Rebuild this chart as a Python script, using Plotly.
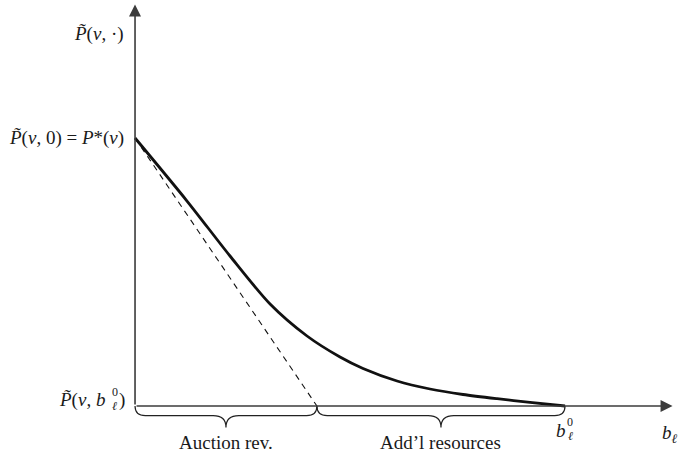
import plotly.graph_objects as go

# Resource price as a function of bid b_l (P* normalised to 1, b_l^0 normalised to 1)
curve_b = [0.0, 0.1209, 0.2209, 0.3140, 0.400, 0.4767, 0.5302, 0.6093, 0.6860, 0.7628, 0.8419, 0.9186, 1.0]
curve_p = [1.0, 0.7649, 0.5597, 0.3806, 0.2612, 0.1828, 0.1399, 0.0933, 0.0634, 0.0429, 0.0272, 0.0138, 0.0]

# Tangent at b = 0 (dashed), hitting zero at the end of the auction revenue segment
tangent_b = [0.0, 0.423]
tangent_p = [1.0, 0.0]

b_zero = curve_b[-1]
p_star = curve_p[0]

brace_labels = ["Auction rev.", "Add’l resources"]

FONT = "Liberation Serif"
AXIS_COLOR = "#3c3c3c"
INK = "#1a1a1a"

fig = go.Figure()

fig.add_trace(go.Scatter(
    x=tangent_b, y=tangent_p, mode="lines",
    line=dict(color="#111", width=1.1, dash="6px,5px"),
    hoverinfo="skip", showlegend=False))

fig.add_trace(go.Scatter(
    x=curve_b, y=curve_p, mode="lines",
    line=dict(color="#111", width=2.8, shape="spline", smoothing=0.8),
    hoverinfo="skip", showlegend=False))


def brace_path(x0, x1, body=-0.036, tip=-0.08, r_end=0.024, r_mid=0.03):
    xm = (x0 + x1) / 2
    return (f"M {x0},0 Q {x0},{body} {x0 + r_end},{body} "
            f"L {xm - r_mid},{body} Q {xm},{body} {xm},{tip} "
            f"Q {xm},{body} {xm + r_mid},{body} "
            f"L {x1 - r_end},{body} Q {x1},{body} {x1},0")


segments = [(0.0, tangent_b[1]), (tangent_b[1], b_zero)]
shapes = []
for (a, b) in segments:
    shapes.append(dict(type="path", xref="x", yref="y", path=brace_path(a, b),
                       line=dict(color="#222", width=1.2)))

annotations = []
# axes with arrowheads
annotations.append(dict(x=1.25, y=0, ax=0, ay=0, xref="x", yref="y", axref="x", ayref="y",
                        showarrow=True, arrowhead=2, arrowsize=1.5, arrowwidth=1.6,
                        arrowcolor=AXIS_COLOR, text=""))
annotations.append(dict(x=0, y=1.498, ax=0, ay=0, xref="x", yref="y", axref="x", ayref="y",
                        showarrow=True, arrowhead=2, arrowsize=1.5, arrowwidth=1.6,
                        arrowcolor=AXIS_COLOR, text=""))

txt = dict(family=FONT, size=19, color=INK)
small = dict(family=FONT, size=12, color=INK)

for (a, b), lab in zip(segments, brace_labels):
    annotations.append(dict(x=(a + b) / 2, y=-0.138, xref="x", yref="y", text=lab,
                            showarrow=False, font=txt, xanchor="center", yanchor="middle"))

# y-axis labels
annotations.append(dict(x=0, y=1.39, xref="x", yref="y", xshift=-9,
                        text="<i>P̃</i>(<i>ν</i>, ·)", showarrow=False, font=txt,
                        xanchor="right", yanchor="middle"))
annotations.append(dict(x=0, y=p_star, xref="x", yref="y", xshift=-9,
                        text="<i>P̃</i>(<i>ν</i>, 0) = <i>P</i>*(<i>ν</i>)", showarrow=False, font=txt,
                        xanchor="right", yanchor="middle"))
annotations.append(dict(x=0, y=0.022, xref="x", yref="y", xshift=-28,
                        text="<i>P̃</i>(<i>ν</i>, <i>b</i>", showarrow=False, font=txt,
                        xanchor="right", yanchor="middle"))
annotations.append(dict(x=0, y=0.052, xref="x", yref="y", xshift=-20,
                        text="0", showarrow=False, font=small,
                        xanchor="center", yanchor="middle"))
annotations.append(dict(x=0, y=0.0, xref="x", yref="y", xshift=-21,
                        text="<i>ℓ</i>", showarrow=False, font=small,
                        xanchor="center", yanchor="middle"))
annotations.append(dict(x=0, y=0.022, xref="x", yref="y", xshift=-8,
                        text=")", showarrow=False, font=txt,
                        xanchor="right", yanchor="middle"))

# x-axis labels
annotations.append(dict(x=b_zero, y=-0.09, xref="x", yref="y", xshift=-4,
                        text="<i>b</i>", showarrow=False, font=txt,
                        xanchor="center", yanchor="middle"))
annotations.append(dict(x=b_zero, y=-0.058, xref="x", yref="y", xshift=5,
                        text="0", showarrow=False, font=small,
                        xanchor="center", yanchor="middle"))
annotations.append(dict(x=b_zero, y=-0.112, xref="x", yref="y", xshift=5,
                        text="<i>ℓ</i>", showarrow=False, font=small,
                        xanchor="center", yanchor="middle"))
annotations.append(dict(x=1.245, y=-0.105, xref="x", yref="y",
                        text="<i>b</i><sub><i>ℓ</i></sub>", showarrow=False, font=txt,
                        xanchor="center", yanchor="middle"))

fig.update_layout(
    width=679, height=456,
    margin=dict(l=0, r=0, t=0, b=0),
    paper_bgcolor="white", plot_bgcolor="white",
    xaxis=dict(range=[-0.314, 1.265], visible=False, fixedrange=True),
    yaxis=dict(range=[-0.1866, 1.515], visible=False, fixedrange=True),
    shapes=shapes, annotations=annotations,
)

fig.write_html("out.html")
